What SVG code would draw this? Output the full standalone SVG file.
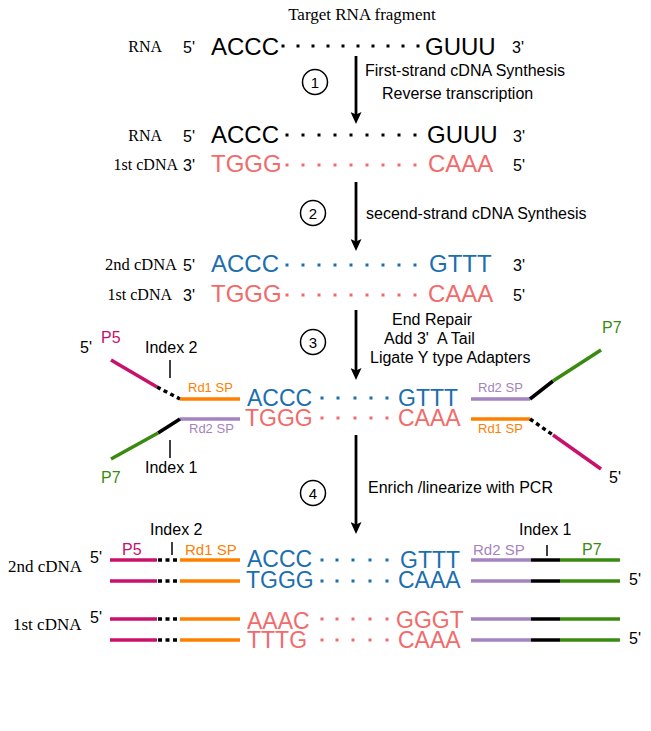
<svg xmlns="http://www.w3.org/2000/svg" width="651" height="731" viewBox="0 0 651 731">
<style>
.sf{font-family:"Liberation Serif","Times New Roman",serif;fill:#000}
.ss{font-family:"Liberation Sans",Arial,sans-serif}
.seq{font-family:"Liberation Sans",Arial,sans-serif;font-size:24px}
.seq2{font-family:"Liberation Sans",Arial,sans-serif;font-size:23px}
.end{font-family:"Liberation Sans",Arial,sans-serif;font-size:16px;fill:#000}
.step{font-family:"Liberation Sans",Arial,sans-serif;font-size:16px;fill:#000}
.lbl{font-family:"Liberation Sans",Arial,sans-serif;font-size:16px;fill:#000}
.sm{font-family:"Liberation Sans",Arial,sans-serif;font-size:13px}
.sm2{font-family:"Liberation Sans",Arial,sans-serif;font-size:15px}
.k{fill:#000}.pk{fill:#f26b6b}.bl{fill:#1b6fae}
.tmg{fill:#c8106c}.tgr{fill:#3a8a10}.tor{fill:#ff8000}.tpu{fill:#a583be}
.arrow{stroke:#000;stroke-width:2.8;fill:none}
.circ{fill:none;stroke:#000;stroke-width:1.5}
.mg{stroke:#c8106c;stroke-width:3.5;fill:none}
.gr{stroke:#3a8a10;stroke-width:3.5;fill:none}
.or{stroke:#ff8000;stroke-width:3.5;fill:none}
.pu{stroke:#a583be;stroke-width:3.5;fill:none}
.bk{stroke:#000;stroke-width:3.5;fill:none}
.bkd{stroke:#000;stroke-width:3.5;fill:none;stroke-dasharray:4 3.5}
.tick{stroke:#000;stroke-width:1.5}
</style>
<defs>
<marker id="ah" markerUnits="userSpaceOnUse" markerWidth="12" markerHeight="11" refX="8" refY="5.5" orient="auto">
<path d="M0,0 L12,5.5 L0,11 L2.5,5.5 z" fill="#000"/>
</marker>
</defs>

<text class="sf" x="362" y="20" font-size="17" text-anchor="middle">Target RNA fragment</text>

<g id="row1">
<text class="sf" x="162" y="52" font-size="16" text-anchor="end">RNA</text>
<text class="end" x="183" y="53">5'</text>
<text class="seq k" x="211" y="55">ACCC</text>
<g class="k">
<rect x="281.5" y="44.5" width="3" height="3"/><rect x="296.5" y="44.5" width="3" height="3"/><rect x="311.5" y="44.5" width="3" height="3"/><rect x="326.5" y="44.5" width="3" height="3"/><rect x="341.5" y="44.5" width="3" height="3"/><rect x="356.5" y="44.5" width="3" height="3"/><rect x="371.5" y="44.5" width="3" height="3"/><rect x="386.5" y="44.5" width="3" height="3"/><rect x="401.5" y="44.5" width="3" height="3"/><rect x="416.5" y="44.5" width="3" height="3"/>
</g>
<text class="seq k" x="425" y="55">GUUU</text>
<text class="end" x="512" y="53">3'</text>
</g>

<g id="row2">
<text class="sf" x="162" y="141" font-size="16" text-anchor="end">RNA</text>
<text class="end" x="183" y="142">5'</text>
<text class="seq k" x="211" y="143">ACCC</text>
<g class="k">
<rect x="285.5" y="133.5" width="3" height="3"/><rect x="301.5" y="133.5" width="3" height="3"/><rect x="317.5" y="133.5" width="3" height="3"/><rect x="333.5" y="133.5" width="3" height="3"/><rect x="349.5" y="133.5" width="3" height="3"/><rect x="365.5" y="133.5" width="3" height="3"/><rect x="381.5" y="133.5" width="3" height="3"/><rect x="397.5" y="133.5" width="3" height="3"/><rect x="413.5" y="133.5" width="3" height="3"/>
</g>
<text class="seq k" x="427" y="143">GUUU</text>
<text class="end" x="513" y="142">3'</text>
</g>

<g id="row3">
<text class="sf" x="178" y="170" font-size="16" text-anchor="end">1st cDNA</text>
<text class="end" x="183" y="171">3'</text>
<text class="seq pk" x="211" y="172">TGGG</text>
<g class="pk">
<rect x="285.5" y="163.5" width="3" height="3"/><rect x="301.5" y="163.5" width="3" height="3"/><rect x="317.5" y="163.5" width="3" height="3"/><rect x="333.5" y="163.5" width="3" height="3"/><rect x="349.5" y="163.5" width="3" height="3"/><rect x="365.5" y="163.5" width="3" height="3"/><rect x="381.5" y="163.5" width="3" height="3"/><rect x="397.5" y="163.5" width="3" height="3"/><rect x="413.5" y="163.5" width="3" height="3"/>
</g>
<text class="seq pk" x="428" y="172">CAAA</text>
<text class="end" x="513" y="171">5'</text>
</g>

<g id="row4">
<text class="sf" x="177" y="270" font-size="16.5" text-anchor="end">2nd cDNA</text>
<text class="end" x="183" y="271">5'</text>
<text class="seq bl" x="211" y="272">ACCC</text>
<g class="bl">
<rect x="285.5" y="263.5" width="3" height="3"/><rect x="301.5" y="263.5" width="3" height="3"/><rect x="317.5" y="263.5" width="3" height="3"/><rect x="333.5" y="263.5" width="3" height="3"/><rect x="349.5" y="263.5" width="3" height="3"/><rect x="365.5" y="263.5" width="3" height="3"/><rect x="381.5" y="263.5" width="3" height="3"/><rect x="397.5" y="263.5" width="3" height="3"/><rect x="413.5" y="263.5" width="3" height="3"/>
</g>
<text class="seq bl" x="429" y="272">GTTT</text>
<text class="end" x="513" y="271">3'</text>
</g>

<g id="row5">
<text class="sf" x="172" y="300" font-size="16" text-anchor="end">1st cDNA</text>
<text class="end" x="183" y="301">3'</text>
<text class="seq pk" x="211" y="302">TGGG</text>
<g class="pk">
<rect x="285.5" y="293.5" width="3" height="3"/><rect x="301.5" y="293.5" width="3" height="3"/><rect x="317.5" y="293.5" width="3" height="3"/><rect x="333.5" y="293.5" width="3" height="3"/><rect x="349.5" y="293.5" width="3" height="3"/><rect x="365.5" y="293.5" width="3" height="3"/><rect x="381.5" y="293.5" width="3" height="3"/><rect x="397.5" y="293.5" width="3" height="3"/><rect x="413.5" y="293.5" width="3" height="3"/>
</g>
<text class="seq pk" x="428" y="302">CAAA</text>
<text class="end" x="513" y="301">5'</text>
</g>

<g id="connectors">
<line class="arrow" x1="356" y1="56" x2="356" y2="120" marker-end="url(#ah)"/>
<line class="arrow" x1="356" y1="182" x2="356" y2="247" marker-end="url(#ah)"/>
<line class="arrow" x1="356" y1="310" x2="356" y2="376" marker-end="url(#ah)"/>
<line class="arrow" x1="356" y1="435" x2="356" y2="530" marker-end="url(#ah)"/>
</g>

<g id="step1">
<circle class="circ" cx="315" cy="82" r="12.5"/>
<text class="ss" x="315" y="87.5" font-size="15" text-anchor="middle">1</text>
<text class="step" x="365" y="76">First-strand cDNA Synthesis</text>
<text class="step" x="382" y="99">Reverse transcription</text>
</g>

<g id="step2">
<circle class="circ" cx="313" cy="213" r="12.5"/>
<text class="ss" x="313" y="218.5" font-size="15" text-anchor="middle">2</text>
<text class="step" x="366" y="219">secend-strand cDNA Synthesis</text>
</g>

<g id="step3">
<circle class="circ" cx="313" cy="342" r="12.5"/>
<text class="ss" x="313" y="347.5" font-size="15" text-anchor="middle">3</text>
<text class="step" x="392" y="325">End Repair</text>
<text class="step" x="384" y="344" xml:space="preserve">Add 3'  A Tail</text>
<text class="step" x="370" y="363">Ligate Y type Adapters</text>
</g>

<g id="step4">
<circle class="circ" cx="313" cy="493" r="12.5"/>
<text class="ss" x="313" y="498.5" font-size="15" text-anchor="middle">4</text>
<text class="step" x="368" y="493">Enrich /linearize with PCR</text>
</g>

<g id="ligated">
<text class="seq2 bl" x="247" y="406">ACCC</text>
<text class="seq2 pk" x="245" y="426">TGGG</text>
<g class="bl">
<rect x="320.5" y="396.5" width="3" height="3"/><rect x="336.5" y="396.5" width="3" height="3"/><rect x="353.5" y="396.5" width="3" height="3"/><rect x="369.5" y="396.5" width="3" height="3"/><rect x="385.5" y="396.5" width="3" height="3"/>
</g>
<g class="pk">
<rect x="320.5" y="416.5" width="3" height="3"/><rect x="336.5" y="416.5" width="3" height="3"/><rect x="353.5" y="416.5" width="3" height="3"/><rect x="369.5" y="416.5" width="3" height="3"/><rect x="385.5" y="416.5" width="3" height="3"/>
</g>
<text class="seq2 bl" x="398" y="406">GTTT</text>
<text class="seq2 pk" x="398" y="426">CAAA</text>
</g>

<g id="adapter-left">
<text class="end" x="80" y="353">5'</text>
<text class="lbl tmg" x="101" y="343">P5</text>
<line class="mg" x1="111" y1="360" x2="157" y2="387"/>
<line class="bkd" x1="157" y1="387" x2="180" y2="399"/>
<line class="or" x1="180" y1="399" x2="240" y2="399"/>
<text class="sm tor" x="188" y="392">Rd1 SP</text>
<text class="lbl" x="145" y="353">Index 2</text>
<line class="tick" x1="170" y1="360" x2="170" y2="378"/>
<line class="pu" x1="180" y1="419" x2="240" y2="419"/>
<line class="bk" x1="180" y1="419" x2="158" y2="433"/>
<line class="gr" x1="158" y1="433" x2="111" y2="459"/>
<text class="sm tpu" x="189" y="433">Rd2 SP</text>
<line class="tick" x1="170" y1="440" x2="170" y2="458"/>
<text class="lbl" x="145" y="473">Index 1</text>
<text class="lbl tgr" x="101" y="483">P7</text>
</g>

<g id="adapter-right">
<text class="sm tpu" x="478" y="392">Rd2 SP</text>
<line class="pu" x1="471" y1="399" x2="530" y2="399"/>
<line class="bk" x1="530" y1="399" x2="553" y2="381"/>
<line class="gr" x1="553" y1="381" x2="601" y2="350"/>
<text class="lbl tgr" x="602" y="333">P7</text>
<line class="or" x1="471" y1="419" x2="530" y2="419"/>
<text class="sm tor" x="478" y="433">Rd1 SP</text>
<line class="bkd" x1="530" y1="419" x2="553" y2="435"/>
<line class="mg" x1="553" y1="435" x2="601" y2="469"/>
<text class="end" x="609" y="483">5'</text>
</g>

<g id="pcr-labels">
<text class="lbl" x="150" y="535">Index 2</text>
<line class="tick" x1="172" y1="542" x2="172" y2="555"/>
<text class="lbl tmg" x="122" y="555">P5</text>
<text class="sm2 tor" x="185" y="555">Rd1 SP</text>
<text class="sm2 tpu" x="473" y="555">Rd2 SP</text>
<line class="tick" x1="547" y1="545" x2="547" y2="556"/>
<text class="lbl" x="519" y="535">Index 1</text>
<text class="lbl tgr" x="582" y="555">P7</text>
</g>

<g id="pcr-2nd">
<text class="sf" x="8" y="572" font-size="17">2nd cDNA</text>
<text class="end" x="90" y="563">5'</text>
<line class="mg" x1="110" y1="560" x2="157" y2="560"/>
<line class="bkd" x1="158" y1="560" x2="179" y2="560"/>
<line class="or" x1="180" y1="560" x2="240" y2="560"/>
<line class="mg" x1="110" y1="581" x2="157" y2="581"/>
<line class="bkd" x1="158" y1="581" x2="179" y2="581"/>
<line class="or" x1="180" y1="581" x2="240" y2="581"/>
<text class="seq2 bl" x="247" y="567">ACCC</text>
<text class="seq2 bl" x="246" y="588">TGGG</text>
<g class="bl">
<rect x="320.5" y="558.5" width="3" height="3"/><rect x="335.5" y="558.5" width="3" height="3"/><rect x="351.5" y="558.5" width="3" height="3"/><rect x="368.5" y="558.5" width="3" height="3"/><rect x="385.5" y="558.5" width="3" height="3"/>
<rect x="320.5" y="579.5" width="3" height="3"/><rect x="335.5" y="579.5" width="3" height="3"/><rect x="351.5" y="579.5" width="3" height="3"/><rect x="368.5" y="579.5" width="3" height="3"/><rect x="385.5" y="579.5" width="3" height="3"/>
</g>
<text class="seq2 bl" x="400" y="568">GTTT</text>
<text class="seq2 bl" x="398" y="588">CAAA</text>
<line class="pu" x1="471" y1="560" x2="531" y2="560"/>
<line class="bk" x1="531" y1="560" x2="560" y2="560"/>
<line class="gr" x1="560" y1="560" x2="620" y2="560"/>
<line class="pu" x1="471" y1="581" x2="531" y2="581"/>
<line class="bk" x1="531" y1="581" x2="560" y2="581"/>
<line class="gr" x1="560" y1="581" x2="620" y2="581"/>
<text class="end" x="629" y="585">5'</text>
</g>

<g id="pcr-1st">
<text class="sf" x="13" y="630" font-size="17">1st cDNA</text>
<text class="end" x="90" y="623">5'</text>
<line class="mg" x1="110" y1="619" x2="157" y2="619"/>
<line class="bkd" x1="158" y1="619" x2="179" y2="619"/>
<line class="or" x1="180" y1="619" x2="240" y2="619"/>
<line class="mg" x1="110" y1="640" x2="157" y2="640"/>
<line class="bkd" x1="158" y1="640" x2="179" y2="640"/>
<line class="or" x1="180" y1="640" x2="240" y2="640"/>
<text class="seq2 pk" x="247" y="629">AAAC</text>
<text class="seq2 pk" x="247" y="648">TTTG</text>
<g class="pk">
<rect x="320.5" y="617.5" width="3" height="3"/><rect x="335.5" y="617.5" width="3" height="3"/><rect x="351.5" y="617.5" width="3" height="3"/><rect x="368.5" y="617.5" width="3" height="3"/><rect x="385.5" y="617.5" width="3" height="3"/>
<rect x="320.5" y="638.5" width="3" height="3"/><rect x="335.5" y="638.5" width="3" height="3"/><rect x="351.5" y="638.5" width="3" height="3"/><rect x="368.5" y="638.5" width="3" height="3"/><rect x="385.5" y="638.5" width="3" height="3"/>
</g>
<text class="seq2 pk" x="396" y="628">GGGT</text>
<text class="seq2 pk" x="398" y="648">CAAA</text>
<line class="pu" x1="471" y1="619" x2="531" y2="619"/>
<line class="bk" x1="531" y1="619" x2="560" y2="619"/>
<line class="gr" x1="560" y1="619" x2="620" y2="619"/>
<line class="pu" x1="471" y1="640" x2="531" y2="640"/>
<line class="bk" x1="531" y1="640" x2="560" y2="640"/>
<line class="gr" x1="560" y1="640" x2="620" y2="640"/>
<text class="end" x="629" y="644">5'</text>
</g>
</svg>
